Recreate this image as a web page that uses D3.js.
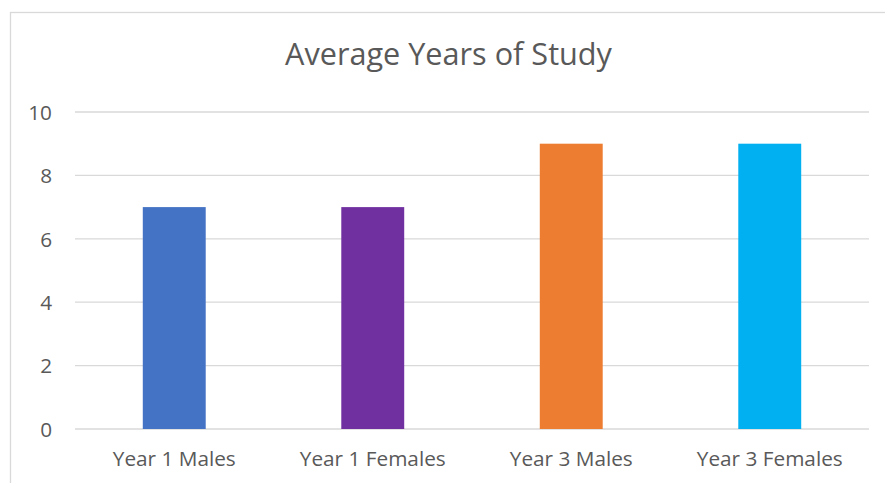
<!DOCTYPE html>
<html><head><meta charset="utf-8">
<script src="https://cdn.jsdelivr.net/npm/d3@7"></script>
<style>body{margin:0;background:#fff}svg{display:block}text{font-family:"Open Sans",sans-serif;fill:#595959}</style>
</head><body><svg id="c" width="885" height="483"></svg>
<script>
const categories = ["Year 1 Males","Year 1 Females","Year 3 Males","Year 3 Females"];
const values = [7,7,9,9];
const colors = ["#4472C4","#7030A0","#ED7D31","#00B0F0"];
const yTicks = [0,2,4,6,8,10];
const title = "Average Years of Study";

const svg = d3.select("#c");
// chart border
svg.append("rect").attr("x",10.5).attr("y",12.5).attr("width",900).attr("height",500)
  .attr("fill","none").attr("stroke","#D9D9D9").attr("stroke-width",1.3);

const x = d3.scaleBand().domain(categories).range([75,869]).paddingInner(0.683).paddingOuter(0.3415);
const y = d3.scaleLinear().domain([0,10]).range([429,112]);

// gridlines
svg.append("g").selectAll("line").data(yTicks).join("line")
  .attr("x1",75).attr("x2",869).attr("y1",d=>y(d)).attr("y2",d=>y(d))
  .attr("stroke","#D9D9D9").attr("stroke-width",1.3);

// bars
svg.append("g").selectAll("rect").data(values).join("rect")
  .attr("x",(d,i)=>x(categories[i])).attr("width",x.bandwidth())
  .attr("y",d=>y(d)).attr("height",d=>y(0)-y(d)).attr("fill",(d,i)=>colors[i]);

// y axis labels
const yAxis = d3.axisLeft(y).tickValues(yTicks).tickSize(0).tickPadding(0);
const ga = svg.append("g").attr("transform","translate(52,0)").call(yAxis);
ga.select(".domain").remove();
ga.selectAll("text").attr("font-size",17).attr("font-family","Open Sans").attr("fill","#595959").attr("dy","0.35em");

// x axis labels
const xAxis = d3.axisBottom(x).tickSize(0).tickPadding(0);
const gx = svg.append("g").attr("transform","translate(0,466)").call(xAxis);
gx.select(".domain").remove();
gx.selectAll("text").attr("dy",0).attr("font-size",17).attr("font-family","Open Sans").attr("fill","#595959");
// fit "Year 1 Females" to ~146px
const ref = gx.selectAll("text").filter(d=>d==="Year 1 Females").node();
const fs = 17*146/ref.getComputedTextLength();
gx.selectAll("text").attr("font-size",fs);
ga.selectAll("text").attr("font-size",fs);

// title
const t = svg.append("text").attr("x",448.5).attr("y",65).attr("text-anchor","middle")
  .attr("font-size",30).text(title);
t.attr("font-size",30*327/t.node().getComputedTextLength());
</script></body></html>
